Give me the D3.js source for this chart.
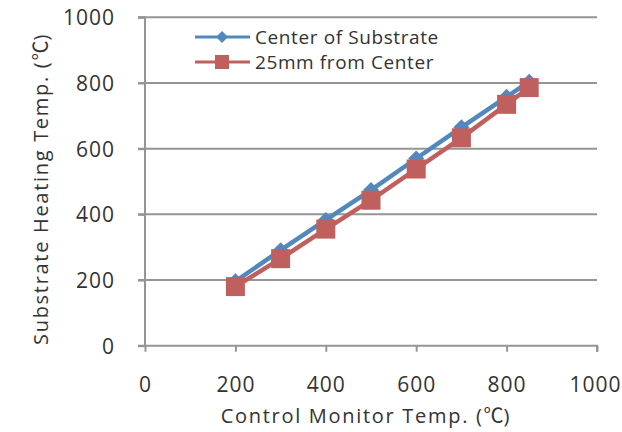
<!DOCTYPE html>
<html><head><meta charset="utf-8">
<script src="https://cdn.jsdelivr.net/npm/d3@7"></script>
<style>body{margin:0;background:#fff}svg{display:block}text{font-family:"Open Sans","Noto Sans",sans-serif;fill:#333}.cj{font-family:"Noto Sans CJK JP",sans-serif}</style>
</head><body>
<svg id="c" width="622" height="432"></svg>
<script>
const xValues = [200, 300, 400, 500, 600, 700, 800, 850];
const centerValues = [196, 291, 383, 474, 570, 665, 758, 804];
const offsetValues = [180, 265, 355, 443, 538, 633, 735, 786];
const seriesNames = ["Center of Substrate", "25mm from Center"];
const tickValues = [0, 200, 400, 600, 800, 1000];
const xTitle = "Control Monitor Temp. (";
const yTitle = "Substrate Heating Temp. (";
const unit = "\u2103";

const svg = d3.select("#c");
const x = d3.scaleLinear().domain([0, 1000]).range([145, 597]);
const y = d3.scaleLinear().domain([0, 1000]).range([345.7, 17.3]);
const grid = "#959595";

svg.append("g").selectAll("line").data(tickValues.filter(d => d > 0)).join("line")
  .attr("x1", x(0) - 7).attr("x2", x(1000)).attr("y1", d => y(d)).attr("y2", d => y(d))
  .attr("stroke", grid).attr("stroke-width", 2);

const ya = svg.append("g").attr("transform", `translate(${x(0)},0)`)
  .call(d3.axisLeft(y).tickValues(tickValues).tickSize(7).tickPadding(23).tickFormat(d3.format("d")));
ya.select(".domain").attr("stroke", grid).attr("stroke-width", 2).attr("d", `M-7,${y(0)}H0V${y(1000)}H-7`);
ya.selectAll(".tick line").attr("stroke", grid).attr("stroke-width", 2);
ya.selectAll(".tick text").attr("font-size", 21).attr("letter-spacing", 1).attr("fill", "#333").attr("dy", "0.36em");

const xa = svg.append("g").attr("transform", `translate(0,${y(0)})`)
  .call(d3.axisBottom(x).tickValues(tickValues).tickSize(6).tickPadding(25).tickFormat(d3.format("d")));
xa.select(".domain").attr("stroke", grid).attr("stroke-width", 2).attr("d", `M${x(0)},0H${x(1000)}V6`);
xa.selectAll(".tick line").attr("stroke", grid).attr("stroke-width", 2);
xa.selectAll(".tick text").attr("font-size", 21).attr("letter-spacing", 1).attr("fill", "#333")
  .attr("dx", d => d === 1000 ? -2 : 0);

function title(t, s) {
  t.attr("font-size", 20).attr("letter-spacing", 1.7).attr("text-anchor", "middle");
  t.append("tspan").text(s);
  t.append("tspan").attr("class", "cj").attr("letter-spacing", 0).text(unit);
  t.append("tspan").text(")");
}
title(svg.append("text").attr("x", 366).attr("y", 423), xTitle);
title(svg.append("text").attr("transform", "translate(48,189) rotate(-90)"), yTitle);

const blue = "#5388be", red = "#c0605e";
const line = d3.line().x(d => x(d[0])).y(d => y(d[1]));
const cData = xValues.map((v, i) => [v, centerValues[i]]);
const oData = xValues.map((v, i) => [v, offsetValues[i]]);

function diamond(g, cx, cy, s, c) {
  g.append("path").attr("d", `M${cx},${cy - s}L${cx + s},${cy}L${cx},${cy + s}L${cx - s},${cy}Z`).attr("fill", c);
}
function square(g, cx, cy, s, c) {
  g.append("rect").attr("x", cx - s).attr("y", cy - s).attr("width", 2 * s).attr("height", 2 * s).attr("fill", c);
}

svg.append("path").datum(cData).attr("d", line).attr("fill", "none").attr("stroke", blue).attr("stroke-width", 4.5);
const gb = svg.append("g");
cData.forEach(d => diamond(gb, x(d[0]), y(d[1]), 8, blue));
svg.append("path").datum(oData).attr("d", line).attr("fill", "none").attr("stroke", red).attr("stroke-width", 4.5);
const gr = svg.append("g");
oData.forEach(d => square(gr, x(d[0]), y(d[1]), 9.5, red));

const lg = svg.append("g");
[[blue, 37, "d"], [red, 62, "s"]].forEach((r, i) => {
  lg.append("line").attr("x1", 195).attr("x2", 250).attr("y1", r[1]).attr("y2", r[1]).attr("stroke", r[0]).attr("stroke-width", 3);
  if (r[2] === "d") diamond(lg, 222, r[1], 6, r[0]); else square(lg, 222, r[1], 7, r[0]);
  lg.append("text").attr("x", 255).attr("y", r[1]).attr("dy", "0.36em").attr("font-size", 19).attr("letter-spacing", 0.6).attr("fill", "#222").text(seriesNames[i]);
});
</script>
</body></html>
